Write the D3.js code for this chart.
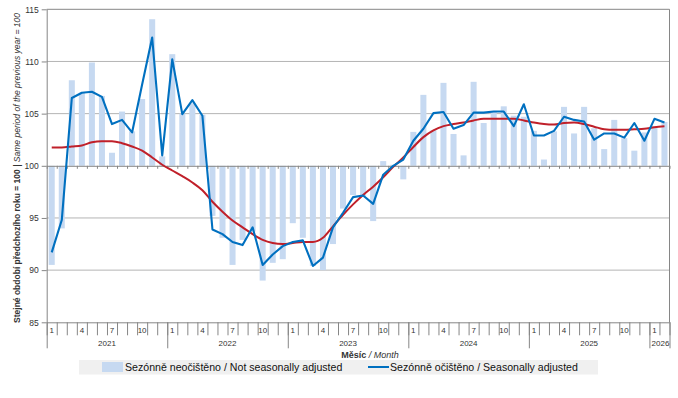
<!DOCTYPE html>
<html>
<head>
<meta charset="utf-8">
<script src="https://cdn.jsdelivr.net/npm/d3@7"></script>
<style>
  html, body { margin: 0; padding: 0; background: #ffffff; }
  svg { display: block; font-family: "Liberation Sans", Arial, sans-serif; }
</style>
</head>
<body>
<svg id="chart" width="678" height="398"></svg>
<script>
// ---- data ----
const years = [2021, 2022, 2023, 2024, 2025, 2026];
const monthsPerYear = [12, 12, 12, 12, 12, 2];
const monthTickLabels = [1, 4, 7, 10];
const yTicks = [85, 90, 95, 100, 105, 110, 115];

const notSeasonallyAdjusted = [
  90.5, 94.0, 108.2, 107.0, 109.9, 106.7, 101.25, 105.2, 103.3, 106.4, 114.05, 100.9,
  110.7, 105.0, 106.0, 104.9, 95.2, 93.1, 90.5, 92.9, 93.7, 89.0, 90.7, 91.05,
  94.5, 93.1, 90.4, 90.0, 92.5, 95.9, 97.2, 97.1, 94.7, 100.45, 100.1, 98.7,
  103.25, 106.8, 103.4, 107.95, 103.05, 101.0, 108.05, 104.1, 105.2, 105.7, 104.8, 104.7,
  103.35, 100.6, 103.3, 105.65, 103.1, 105.65, 103.6, 101.6, 104.4, 102.65, 101.45, 103.2,
  103.8, 104.2
];
const seasonallyAdjusted = [
  91.7, 94.8, 106.5, 107.0, 107.1, 106.6, 104.0, 104.4, 103.2, 107.8, 112.3, 101.0,
  110.2, 104.95, 106.3, 104.8, 93.9, 93.45, 92.7, 92.4, 94.1, 90.5, 91.5, 92.3,
  92.7, 92.85, 90.4, 91.2, 94.1, 95.5, 97.0, 97.15, 96.35, 99.15, 100.0, 100.6,
  102.4, 103.55, 105.05, 105.15, 103.55, 103.9, 105.1, 105.1, 105.2, 105.2, 103.8, 105.9,
  102.9, 102.9, 103.35, 104.7, 104.4, 104.25, 102.5, 103.1, 103.1, 102.7, 104.1, 102.4,
  104.5, 104.15
];
const trend = [
  101.76, 101.76, 101.85, 101.95, 102.25, 102.35, 102.35, 102.17, 101.85, 101.45, 100.8, 100.1,
  99.55, 99.0, 98.4, 97.65, 96.55, 95.6, 94.75, 94.1, 93.45, 92.9, 92.6, 92.5,
  92.6, 92.7, 92.7, 93.1, 94.2, 95.3, 96.3, 97.2, 98.0, 98.9, 99.9, 100.8,
  101.8, 102.75, 103.4, 103.8, 104.0, 104.15, 104.35, 104.5, 104.5, 104.5, 104.5, 104.35,
  104.15, 104.0, 103.95, 104.1, 104.15, 104.0, 103.75, 103.5, 103.45, 103.45, 103.5, 103.55,
  103.7, 103.8
];

const categories = [];
years.forEach((yr, yi) => {
  for (let m = 1; m <= monthsPerYear[yi]; m++) categories.push({ year: yr, month: m, key: yr + "-" + m });
});

// ---- layout ----
const svg = d3.select("#chart");
const L = 46.7, R = 669.5, T = 9.3, B = 322.3;
const n = categories.length;

const xBand = d3.scaleBand().domain(categories.map(d => d.key)).range([L, R]).padding(0);
const xBar = d3.scaleBand().domain(categories.map(d => d.key)).range([L, R]).paddingInner(0.4).paddingOuter(0.2);
const xIdx = d3.scaleLinear().domain([0, n]).range([L, R]);
const y = d3.scaleLinear().domain([85, 115]).range([B, T]);
const xc = (d, i) => xBand(categories[i].key) + xBand.bandwidth() / 2;

const gridColor = "#b4b4b4";
const axisColor = "#868686";

// gridlines
svg.append("g")
  .selectAll("line")
  .data(yTicks.filter(v => v !== 85 && v !== 100 && v !== 115))
  .join("line")
  .attr("x1", L).attr("x2", R)
  .attr("y1", d => y(d)).attr("y2", d => y(d))
  .attr("stroke", gridColor).attr("stroke-width", 1);

// plot border (top, right)
svg.append("line").attr("x1", L).attr("x2", R).attr("y1", y(115)).attr("y2", y(115)).attr("stroke", axisColor);
svg.append("line").attr("x1", R).attr("x2", R).attr("y1", y(115)).attr("y2", B).attr("stroke", axisColor);

// bars
svg.append("g")
  .selectAll("rect")
  .data(notSeasonallyAdjusted)
  .join("rect")
  .attr("x", (d, i) => xBar(categories[i].key))
  .attr("width", xBar.bandwidth())
  .attr("y", d => y(Math.max(d, 100)))
  .attr("height", d => Math.abs(y(d) - y(100)))
  .attr("fill", "#c6d9f1");

// axis at 100 with small ticks
const axis100 = svg.append("g")
  .attr("transform", `translate(0,${y(100)})`)
  .call(d3.axisBottom(xIdx).tickValues(d3.range(0, n + 1)).tickSize(3).tickSizeOuter(0).tickFormat(""));
axis100.select(".domain").attr("stroke", axisColor);
axis100.selectAll(".tick line").attr("stroke", axisColor);

// lines
const line = d3.line().x((d, i) => xc(d, i)).y(d => y(d));
svg.append("path")
  .datum(trend)
  .attr("d", d3.line().x((d, i) => xc(d, i)).y(d => y(d)).curve(d3.curveMonotoneX))
  .attr("fill", "none").attr("stroke", "#c0202a").attr("stroke-width", 2);
svg.append("path")
  .datum(seasonallyAdjusted)
  .attr("d", line)
  .attr("fill", "none").attr("stroke", "#0070c0").attr("stroke-width", 2.1).attr("stroke-linejoin", "round");

// y axis
const yAxis = svg.append("g")
  .attr("transform", `translate(${L},0)`)
  .call(d3.axisLeft(y).tickValues(yTicks).tickSize(5).tickSizeOuter(0).tickPadding(3).tickFormat(d3.format("d")));
yAxis.select(".domain").attr("stroke", axisColor);
yAxis.selectAll(".tick line").attr("stroke", axisColor);
yAxis.selectAll(".tick text").attr("font-size", 8.5).attr("fill", "#333").attr("font-family", "Liberation Sans, Arial, sans-serif");

// bottom axis: month separators
const axisB = svg.append("g")
  .attr("transform", `translate(0,${B})`)
  .call(d3.axisBottom(xIdx).tickValues(d3.range(0, n + 1)).tickSize(13).tickSizeOuter(0).tickFormat(""));
axisB.select(".domain").attr("stroke", axisColor);
axisB.selectAll(".tick line").attr("stroke", axisColor);

// year separators
const yearStarts = [0];
monthsPerYear.forEach((m, i) => yearStarts.push(yearStarts[i] + m));
const axisY = svg.append("g")
  .attr("transform", `translate(0,${B})`)
  .call(d3.axisBottom(xIdx).tickValues(yearStarts).tickSize(26).tickSizeOuter(0).tickFormat(""));
axisY.select(".domain").remove();
axisY.selectAll(".tick line").attr("stroke", axisColor);

// month labels
svg.append("g")
  .selectAll("text")
  .data(categories.filter(c => monthTickLabels.includes(c.month)))
  .join("text")
  .attr("x", d => xBand(d.key) + xBand.bandwidth() / 2)
  .attr("y", B + 11)
  .attr("text-anchor", "middle")
  .attr("font-size", 8)
  .attr("fill", "#333")
  .text(d => d.month);

// year labels
svg.append("g")
  .selectAll("text")
  .data(years)
  .join("text")
  .attr("x", (d, i) => (xIdx(yearStarts[i]) + xIdx(yearStarts[i + 1])) / 2 + (i === years.length - 1 ? 1 : 0))
  .attr("y", B + 24)
  .attr("text-anchor", "middle")
  .attr("font-size", 8)
  .attr("fill", "#333")
  .text(d => d);

// x title
const xt = svg.append("text").attr("x", 370).attr("y", 357.5).attr("text-anchor", "middle").attr("font-size", 9).attr("fill", "#333");
xt.append("tspan").attr("font-weight", "bold").text("Měsíc");
xt.append("tspan").attr("font-style", "italic").text(" / Month");

// y title
const yt = svg.append("text")
  .attr("transform", "translate(20,168) rotate(-90)")
  .attr("text-anchor", "middle").attr("font-size", 8.5).attr("fill", "#333");
yt.append("tspan").attr("font-weight", "bold").text("Stejné období předchozího roku = 100 | ");
yt.append("tspan").attr("font-style", "italic").text("Same period of the previous year = 100");

// legend
const lg = svg.append("g");
lg.append("rect").attr("x", 79).attr("y", 360).attr("width", 519).attr("height", 14.5).attr("fill", "#f0f0f0");
lg.append("rect").attr("x", 102).attr("y", 362).attr("width", 21).attr("height", 10).attr("fill", "#c6d9f1");
lg.append("text").attr("x", 125).attr("y", 370.8).attr("font-size", 10.6).attr("fill", "#111")
  .text("Sezónně neočištěno / Not seasonally adjusted");
lg.append("line").attr("x1", 368).attr("x2", 389).attr("y1", 367).attr("y2", 367).attr("stroke", "#0070c0").attr("stroke-width", 2);
lg.append("text").attr("x", 390).attr("y", 370.8).attr("font-size", 10.6).attr("fill", "#111")
  .text("Sezónně očištěno / Seasonally adjusted");
</script>
</body>
</html>
